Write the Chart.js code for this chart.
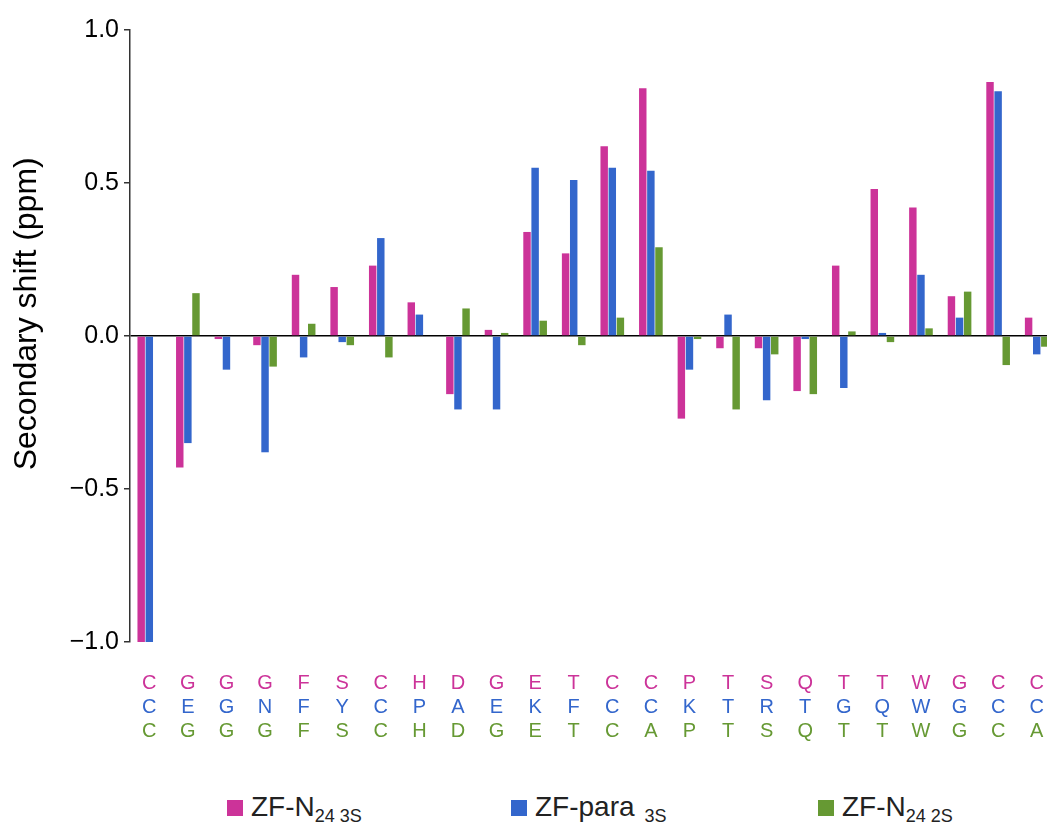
<!DOCTYPE html>
<html>
<head>
<meta charset="utf-8">
<script src="https://cdn.jsdelivr.net/npm/chart.js@4.4.0/dist/chart.umd.min.js"></script>
<style>
  html, body { margin: 0; padding: 0; background: #fff; overflow: hidden; width: 1047px; height: 823px; }
  #wrap { position: absolute; left: 0; top: 0; width: 1047px; height: 760px; overflow: hidden; }
  #legend { position: absolute; left: 0; top: 790px; width: 1047px; height: 33px;
            font-family: "Liberation Sans", Arial, sans-serif; color: #222; }
  .item { position: absolute; top: 0; white-space: nowrap; }
  .sw { position: absolute; top: 10px; width: 16px; height: 16px; }
  .lbl { position: absolute; left: 24px; top: 0; font-size: 28px; line-height: 33px; }
  .lbl sub { font-size: 18px; vertical-align: -6px; }
</style>
</head>
<body>
<div id="wrap"><canvas id="chart" width="1060" height="760"></canvas></div>
<div id="legend">
  <div class="item" style="left:227px"><span class="sw" style="background:#CC3399"></span><span class="lbl">ZF-N<sub>24&nbsp;3S</sub></span></div>
  <div class="item" style="left:511px"><span class="sw" style="background:#3366CC"></span><span class="lbl">ZF-para<sub>&nbsp;&nbsp;3S</sub></span></div>
  <div class="item" style="left:818px"><span class="sw" style="background:#669933"></span><span class="lbl">ZF-N<sub>24&nbsp;2S</sub></span></div>
</div>
<script>
// residue letters for each construct (one row per construct)
let resN24_3S = ['C','G','G','G','F','S','C','H','D','G','E','T','C','C','P','T','S','Q','T','T','W','G','C','C'];
let resPara_3S = ['C','E','G','N','F','Y','C','P','A','E','K','F','C','C','K','T','R','T','G','Q','W','G','C','C'];
let resN24_2S = ['C','G','G','G','F','S','C','H','D','G','E','T','C','A','P','T','S','Q','T','T','W','G','C','A'];

// secondary shifts (ppm)
let shiftN24_3S = [-1.0, -0.43, -0.01, -0.03, 0.20, 0.16, 0.23, 0.11, -0.19, 0.02, 0.34, 0.27,
                   0.62, 0.81, -0.27, -0.04, -0.04, -0.18, 0.23, 0.48, 0.42, 0.13, 0.83, 0.06];
let shiftPara_3S = [-1.0, -0.35, -0.11, -0.38, -0.07, -0.02, 0.32, 0.07, -0.24, -0.24, 0.55, 0.51,
                    0.55, 0.54, -0.11, 0.07, -0.21, -0.01, -0.17, 0.01, 0.20, 0.06, 0.80, -0.06];
let shiftN24_2S = [null, 0.14, null, -0.10, 0.04, -0.03, -0.07, null, 0.09, 0.01, 0.05, -0.03,
                   0.06, 0.29, -0.01, -0.24, -0.06, -0.19, 0.015, -0.02, 0.025, 0.145, -0.095, -0.035];

let seriesNames = ['ZF-N24 3S', 'ZF-para 3S', 'ZF-N24 2S'];
let yTicks = [-1.0, -0.5, 0.0, 0.5, 1.0];

const PINK = '#CC3399', BLUE = '#3366CC', GREEN = '#669933';
const FONT = '"Liberation Sans", Arial, sans-serif';

function letterAxis(labels, color, h, show) {
    return {
        type: 'category',
        position: 'bottom',
        labels: labels,
        offset: true,
        grid: { display: false, drawTicks: false },
        border: { display: false },
        ticks: { display: show, color: color, padding: 0, autoSkip: false, maxRotation: 0,
                 font: { family: FONT, size: 20 } },
        afterFit: (s) => { s.height = h; }
    };
}

let ctx = document.getElementById('chart').getContext('2d');
let chart = new Chart(ctx, {
    type: 'bar',
    data: {
        labels: resN24_3S,
        datasets: [
            { label: seriesNames[0], data: shiftN24_3S, backgroundColor: PINK },
            { label: seriesNames[1], data: shiftPara_3S, backgroundColor: BLUE },
            { label: seriesNames[2], data: shiftN24_2S, backgroundColor: GREEN }
        ]
    },
    options: {
        responsive: false,
        animation: false,
        categoryPercentage: 0.63,
        barPercentage: 0.92,
        layout: { padding: { left: 0, right: 4, top: 30, bottom: 17 } },
        plugins: { legend: { display: false }, tooltip: { enabled: false } },
        scales: {
            gap: letterAxis(resN24_3S, PINK, 29, false),   // empty space under the plot
            x: letterAxis(resN24_3S, PINK, 24, true),
            x2: letterAxis(resPara_3S, BLUE, 24, true),
            x3: letterAxis(resN24_2S, GREEN, 24, true),
            y: {
                min: -1, max: 1,
                afterBuildTicks: (s) => { s.ticks = yTicks.map(v => ({ value: v })); },
                afterFit: (s) => { s.width = 130; },
                grid: {
                    color: (c) => c.tick && c.tick.value === 0 ? '#000' : 'rgba(0,0,0,0)',
                    lineWidth: 1.5,
                    tickColor: '#333',
                    tickLength: 6
                },
                border: { display: true, color: '#333', width: 1.5 },
                ticks: {
                    color: '#000', padding: 5,
                    font: { family: FONT, size: 25 },
                    callback: (v) => v.toFixed(1).replace('-', '\u2212')
                },
                title: {
                    display: true, text: '     Secondary shift (ppm)', color: '#000',
                    font: { family: FONT, size: 32 },
                    padding: { top: 8, bottom: 0 }
                }
            }
        }
    }
});
</script>
</body>
</html>
